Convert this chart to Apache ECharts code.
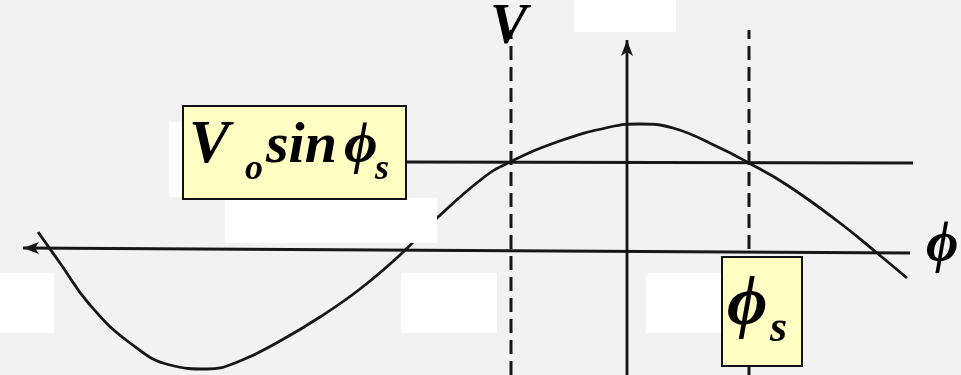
<!DOCTYPE html>
<html>
<head>
<meta charset="utf-8">
<script src="https://cdn.jsdelivr.net/npm/echarts@6/dist/echarts.min.js"></script>
<style>
  html, body { margin: 0; padding: 0; background: #f2f2f2; }
  #chart_example { width: 961px; height: 375px; }
</style>
</head>
<body>
<div id="chart_example"></div>
<script>
// phase axis (phi) and voltage axis (V), origin where the two axes cross
var phiRange = [-627, 334];
var vRange = [-125, 250];

// RF voltage curve
var curvePhi = [-589, -567, -537, -497, -457, -420, -387, -347, -307, -267, -227, -190, -144, -119, -70, -17, 13, 46, 93, 120, 160, 213, 250, 280];
var curveV = [18, -13, -55, -93, -115, -119, -111, -91, -67, -39, -5, 32, 72, 87, 108, 123, 126, 122, 102, 88, 65, 27, -3, -28];

// V0 sin(phi_s) level
var levelPhi = [-221, 286];
var levelV = [88, 87];

// synchronous phases (dashed)
var phiS = [-116, 122];
var dashV = [-125, 220];

// the two axes
var hAxisPhi = [-604, 283];
var hAxisV = [2, -3];
var vAxisV = [-125, 210];

var black = '#161616';
var serif = '"Liberation Serif", "DejaVu Serif", serif';

function pairs(xs, ys) {
  var out = [];
  for (var i = 0; i < xs.length; i++) out.push([xs[i], ys[i]]);
  return out;
}

function line(name, data, extra) {
  var s = {
    name: name,
    type: 'line',
    data: data,
    symbol: 'none',
    silent: true,
    animation: false,
    lineStyle: { color: black, width: 2.8 }
  };
  for (var k in extra) s[k] = extra[k];
  return s;
}

function txt(x, y, text, size) {
  return {
    type: 'text', x: x, y: y, z: 102,
    style: {
      text: text, fill: '#000',
      font: 'italic bold ' + size + 'px ' + serif,
      textAlign: 'left', textVerticalAlign: 'middle'
    }
  };
}

function mask(x, y, w, h) {
  return { type: 'rect', z: 100, shape: { x: x, y: y, width: w, height: h }, style: { fill: '#ffffff' } };
}

function box(x, y, w, h) {
  return { type: 'rect', z: 101, shape: { x: x, y: y, width: w, height: h }, style: { fill: '#ffffc4', stroke: '#111', lineWidth: 2 } };
}

var myChart = echarts.init(document.getElementById('chart_example'));

var option1 = {
  backgroundColor: '#f2f2f2',
  animation: false,
  grid: { left: 0, right: 0, top: 0, bottom: 0 },
  xAxis: { type: 'value', min: phiRange[0], max: phiRange[1], show: false },
  yAxis: { type: 'value', min: vRange[0], max: vRange[1], show: false },
  series: [
    line('phi axis', [
      { value: [hAxisPhi[0], hAxisV[0]], symbol: 'arrow', symbolSize: [9, 16], symbolRotate: 90 },
      [hAxisPhi[1], hAxisV[1]]
    ], { showSymbol: true, itemStyle: { color: black } }),
    line('V axis', [
      [0, vAxisV[0]],
      { value: [0, vAxisV[1]], symbol: 'arrow', symbolSize: [9, 16] }
    ], { showSymbol: true, itemStyle: { color: black } }),
    line('phi_s left', [[phiS[0], dashV[0]], [phiS[0], dashV[1]]], { lineStyle: { color: black, width: 3, type: [14, 7] } }),
    line('phi_s right', [[phiS[1], dashV[0]], [phiS[1], dashV[1]]], { lineStyle: { color: black, width: 3, type: [14, 7] } }),
    line('V0 sin phi_s', pairs(levelPhi, levelV)),
    line('V', pairs(curvePhi, curveV), { smooth: 0.45 })
  ],
  graphic: [
    mask(169, 122, 14, 75),
    mask(225, 198, 212, 45),
    mask(0, 273, 54, 60),
    mask(401, 273, 96, 60),
    mask(646, 273, 76, 60),
    mask(574, 0, 102, 32),
    box(183, 106, 223, 93),
    txt(189, 146, 'V', 61),
    txt(245, 170, 'o', 36),
    txt(266, 147, 'sin', 58),
    txt(344, 147, 'ϕ', 58),
    txt(375, 170, 's', 36),
    box(722, 257, 80, 109),
    txt(727, 306, 'ϕ', 70),
    txt(770, 330, 's', 44),
    txt(926, 247, 'ϕ', 56),
    txt(490, 29, 'V', 56)
  ]
};

myChart.setOption(option1);
window.addEventListener('resize', function () { myChart.resize(); });
</script>
</body>
</html>
